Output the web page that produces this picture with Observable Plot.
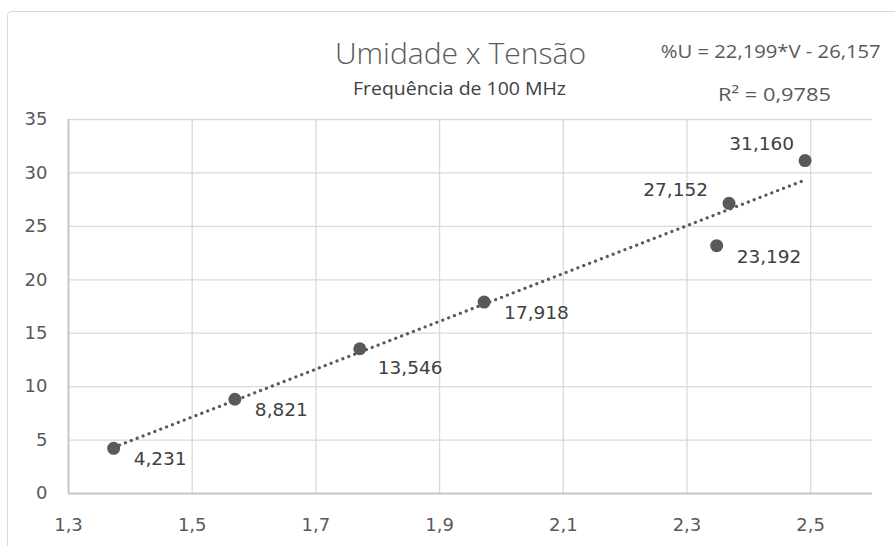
<!DOCTYPE html>
<html>
<head>
<meta charset="utf-8">
<script src="https://cdn.jsdelivr.net/npm/d3@7"></script>
<script src="https://cdn.jsdelivr.net/npm/@observablehq/plot@0.6"></script>
<style>
  body { margin: 0; background: #fff; }
  #wrap { position: relative; width: 895px; height: 546px; overflow: hidden; background: #fff; }
  #frame { position: absolute; left: 7px; top: 11px; width: 920px; height: 580px; border: 1.5px solid #d9d9d9; border-radius: 4px; box-sizing: border-box; }
  #chart { position: absolute; left: 0; top: 0; }
</style>
</head>
<body>
<div id="wrap"><div id="frame"></div><div id="chart"></div></div>
<script>
// ---- data ----
const tensao  = [1.373, 1.569, 1.771, 1.972, 2.348, 2.368, 2.491];   // V
const umidade = [4.231, 8.821, 13.546, 17.918, 23.192, 27.152, 31.160]; // %U
const labelPlace = ["right", "right", "rightLow", "right", "right", "left", "leftHigh"];
const xTicks = [1.3, 1.5, 1.7, 1.9, 2.1, 2.3, 2.5];
const yTicks = [0, 5, 10, 15, 20, 25, 30, 35];
const titleText = "Umidade x Tensão";
const subtitleText = "Frequência de 100 MHz";
const equationText = "%U = 22,199*V - 26,157";
const r2Text = "R² = 0,9785";

// ---- build ----
const data = tensao.map((v, i) => ({ v, u: umidade[i], place: labelPlace[i] }));
const fmt3 = d => d.toFixed(3).replace(".", ",");
const placement = {
  right:    { textAnchor: "start", dx: 20,  dy: 11 },
  rightLow: { textAnchor: "start", dx: 18,  dy: 19 },
  left:     { textAnchor: "end",   dx: -21, dy: -13 },
  leftHigh: { textAnchor: "end",   dx: -11, dy: -16 }
};

const labelMarks = Object.entries(placement).map(([key, p]) =>
  Plot.text(data.filter(d => d.place === key), {
    x: "v", y: "u", text: d => fmt3(d.u),
    textAnchor: p.textAnchor, dx: p.dx, dy: p.dy,
    fill: "#404040", fontSize: 18.5, fontFamily: "DejaVu Sans"
  })
);

const chart = Plot.plot({
  width: 895,
  height: 546,
  marginLeft: 68,
  marginRight: 23,
  marginTop: 119,
  marginBottom: 53,
  style: { fontFamily: "DejaVu Sans", fontSize: "18px", color: "#595959", background: "transparent" },
  x: { domain: [1.3, 2.6], ticks: xTicks, tickFormat: d => d.toFixed(1).replace(".", ","), tickSize: 0, tickPadding: 23, label: null },
  y: { domain: [0, 35], ticks: yTicks, tickFormat: d => String(d), tickSize: 0, tickPadding: 21, label: null },
  marks: [
    Plot.gridY(yTicks.slice(1), { stroke: "#d9d9d9", strokeOpacity: 1, strokeWidth: 1.3 }),
    Plot.gridX(xTicks.slice(1), { stroke: "#d9d9d9", strokeOpacity: 1, strokeWidth: 1.3 }),
    Plot.ruleX([xTicks[0]], { stroke: "#c6c6c6", strokeWidth: 2 }),
    Plot.ruleY([yTicks[0]], { stroke: "#c6c6c6", strokeWidth: 2 }),
    Plot.linearRegressionY(data, { x: "v", y: "u", ci: 0, stroke: "#595959", strokeWidth: 3.2, strokeDasharray: "0.1,6.2", strokeLinecap: "round" }),
    Plot.dot(data, { x: "v", y: "u", r: 6.5, fill: "#595959", stroke: "none" }),
    ...labelMarks,
    Plot.axisX({ ticks: xTicks, tickSize: 0, tickPadding: 25, tickFormat: d => d.toFixed(1).replace(".", ","), label: null, fontFamily: "DejaVu Sans", fontSize: 18, fill: "#595959" }),
    Plot.axisY({ ticks: yTicks, tickSize: 0, tickPadding: 21, label: null, fontFamily: "DejaVu Sans", fontSize: 18, fill: "#595959" })
  ]
});

const svg = d3.select(chart);
function addText(txt, x, y, opts) {
  const t = svg.append("text")
    .attr("x", x).attr("y", y)
    .attr("text-anchor", opts.anchor || "start")
    .attr("font-family", opts.family || "Open Sans")
    .attr("font-size", opts.size)
    .attr("font-weight", opts.weight || 400)
    .attr("fill", opts.fill || "#595959")
    .text(txt);
  if (opts.len) t.attr("textLength", opts.len).attr("lengthAdjust", "spacingAndGlyphs");
  return t;
}
addText(titleText, 460.5, 64, { anchor: "middle", size: 30, weight: 300, len: 251, fill: "#595959" });
addText(subtitleText, 459.5, 95, { anchor: "middle", size: 19, weight: 400, len: 213, fill: "#404040" });
addText(equationText, 660.7, 58.3, { size: 18.5, len: 220, fill: "#595959" });
addText(r2Text, 718, 100.7, { size: 18.5, len: 113, fill: "#595959" });

document.getElementById("chart").appendChild(chart);
</script>
</body>
</html>
